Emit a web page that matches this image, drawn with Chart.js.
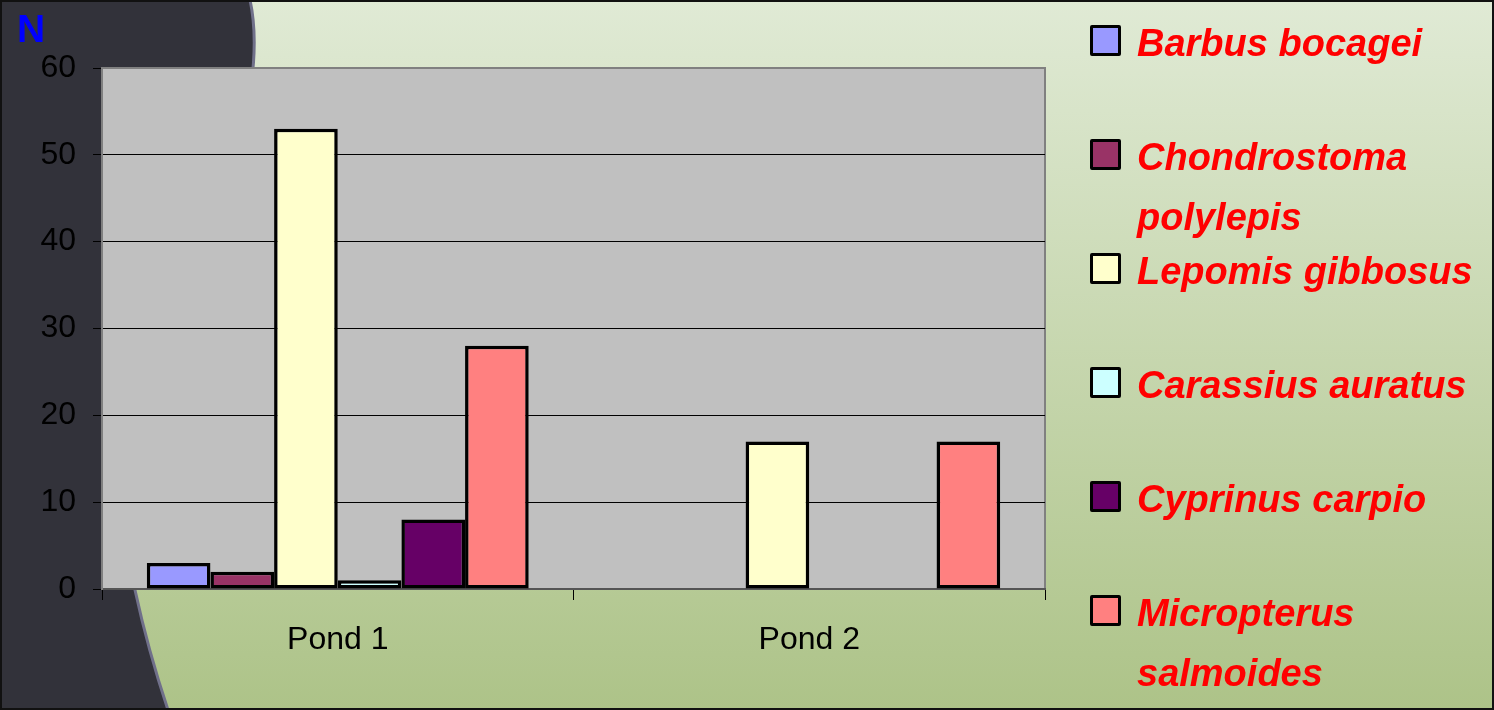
<!DOCTYPE html>
<html>
<head>
<meta charset="utf-8">
<script src="https://cdn.jsdelivr.net/npm/chart.js@4.4.1/dist/chart.umd.min.js"></script>
<style>
  html, body { margin: 0; padding: 0; background: #c8d8b0; }
  #wrap { position: relative; width: 1494px; height: 710px; overflow: hidden; }
  #c { position: absolute; left: 0; top: 0; }
  #ylab { position: absolute; left: 17px; top: 9px; font: bold 39px/39px "Liberation Sans", Arial, sans-serif; color: #0000ff; }
  #legend { position: absolute; left: 0; top: 0; }
  .box { position: absolute; left: 1090px; width: 31px; height: 31px; box-sizing: border-box; border: 3.5px solid #000; border-radius: 2px; }
  .txt { position: absolute; left: 1137px; width: 355px; font: italic bold 38px/60px "Liberation Sans", Arial, sans-serif; color: #ff0000; white-space: normal; }
</style>
</head>
<body>
<div id="wrap">
  <canvas id="c" width="1494" height="710"></canvas>
  <div id="ylab">N</div>
  <div id="legend"></div>
</div>
<script>
// ---- data ----
const categories = ['Pond 1', 'Pond 2'];
const species = ['Barbus bocagei', 'Chondrostoma polylepis', 'Lepomis gibbosus', 'Carassius auratus', 'Cyprinus carpio', 'Micropterus salmoides'];
const barbusBocagei = [3, 0];
const chondrostomaPolylepis = [2, 0];
const lepomisGibbosus = [53, 17];
const carassiusAuratus = [1, 0];
const cyprinusCarpio = [8, 0];
const micropterusSalmoides = [28, 17];
const seriesValues = [barbusBocagei, chondrostomaPolylepis, lepomisGibbosus, carassiusAuratus, cyprinusCarpio, micropterusSalmoides];
const seriesColors = ['#9999ff', '#993366', '#ffffcc', '#ccffff', '#660066', '#ff8080'];
const yMin = 0, yMax = 60, yStep = 10;

// ---- background plugin ----
const bgPlugin = {
  id: 'bg',
  beforeDraw(chart) {
    const ctx = chart.ctx, W = chart.width, H = chart.height;
    ctx.save();
    const g = ctx.createLinearGradient(0, 0, 0, H);
    g.addColorStop(0, '#e0ead5');
    g.addColorStop(1, '#adc388');
    ctx.fillStyle = g;
    ctx.fillRect(0, 0, W, H);
    // dark left shape
    ctx.beginPath();
    ctx.moveTo(0, 0);
    ctx.lineTo(250, 0);
    ctx.bezierCurveTo(285, 160, 95, 420, 135, 590);
    ctx.quadraticCurveTo(148, 650, 168, 710);
    ctx.lineTo(0, 710);
    ctx.closePath();
    ctx.fillStyle = '#32323a';
    ctx.fill();
    ctx.beginPath();
    ctx.moveTo(250, 0);
    ctx.bezierCurveTo(285, 160, 95, 420, 135, 590);
    ctx.quadraticCurveTo(148, 650, 168, 710);
    ctx.strokeStyle = '#70708a';
    ctx.lineWidth = 3;
    ctx.stroke();
    // frame
    ctx.strokeStyle = '#111';
    ctx.lineWidth = 4;
    ctx.strokeRect(0, 0, W, H);
    // plot area
    const a = chart.chartArea;
    ctx.fillStyle = '#c0c0c0';
    ctx.fillRect(a.left, a.top, a.right - a.left, a.bottom - a.top);
    ctx.strokeStyle = '#808080';
    ctx.lineWidth = 2;
    ctx.strokeRect(a.left, a.top, a.right - a.left, a.bottom - a.top);
    ctx.restore();
  }
};

const tickFont = { family: '"Liberation Sans", Arial, sans-serif', size: 32 };

new Chart(document.getElementById('c'), {
  type: 'bar',
  data: {
    labels: categories,
    datasets: species.map((name, i) => ({
      label: name,
      data: seriesValues[i],
      backgroundColor: seriesColors[i],
      borderColor: '#000000',
      borderWidth: 3.5,
      borderSkipped: false,
      categoryPercentage: 0.81,
      barPercentage: 1.0
    }))
  },
  options: {
    responsive: false,
    animation: false,
    devicePixelRatio: 1,
    layout: { padding: { left: 0, top: 68, right: 449, bottom: 0 } },
    plugins: { legend: { display: false }, tooltip: { enabled: false } },
    scales: {
      x: {
        grid: { drawOnChartArea: false, drawTicks: true, tickLength: 11, color: '#000', offset: true },
        border: { display: true, color: '#555', width: 2 },
        ticks: { font: tickFont, color: '#000', padding: 21 },
        afterFit(s) { s.height = 121; }
      },
      y: {
        min: yMin, max: yMax,
        grid: {
          color: (c) => (c.tick && c.tick.value === yMax) ? '#808080' : (c.tick && c.tick.value === yMin ? '#555' : '#000'),
          lineWidth: 1,
          tickLength: 9,
          tickColor: '#000'
        },
        border: { display: true, color: '#808080', width: 2 },
        ticks: { stepSize: yStep, font: tickFont, color: '#000', padding: 17 },
        afterFit(s) { s.width = 102; }
      }
    }
  },
  plugins: [bgPlugin]
});

// ---- HTML legend ----
const legend = document.getElementById('legend');
species.forEach((name, i) => {
  const top = 25 + i * 114;
  const box = document.createElement('div');
  box.className = 'box';
  box.style.top = top + 'px';
  box.style.background = seriesColors[i];
  const txt = document.createElement('div');
  txt.className = 'txt';
  txt.style.top = (top - 12) + 'px';
  txt.textContent = name;
  legend.appendChild(box);
  legend.appendChild(txt);
});
</script>
</body>
</html>
